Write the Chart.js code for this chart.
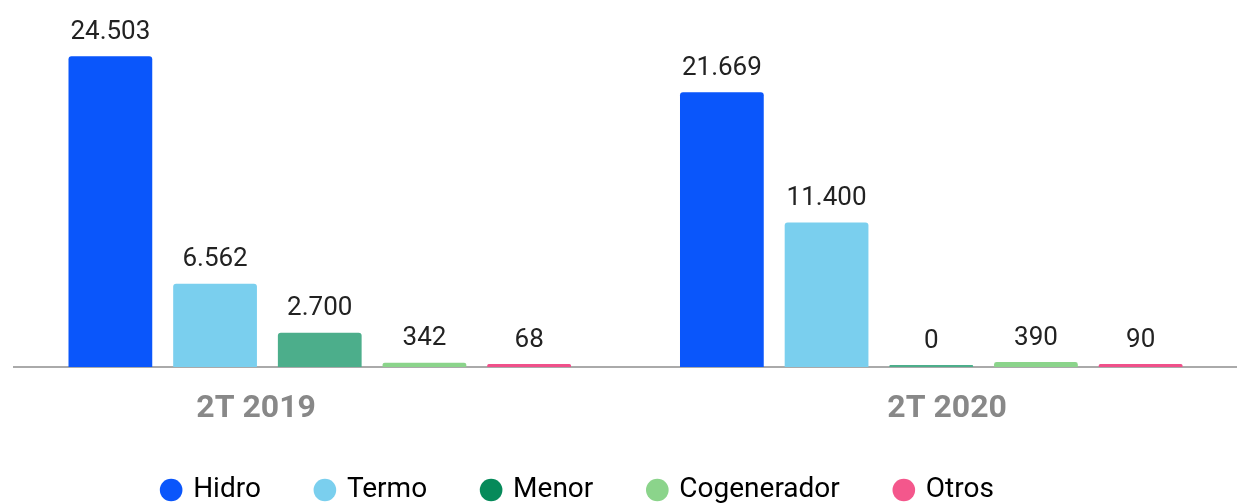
<!DOCTYPE html>
<html>
<head>
<meta charset="utf-8">
<script src="https://cdn.jsdelivr.net/npm/chart.js@4"></script>
<style>
  html, body { margin: 0; padding: 0; background: #fff; }
  #caja { width: 1237px; height: 504px; }
</style>
</head>
<body>
<div id="caja"><canvas id="grafico"></canvas></div>
<script>
const periodos = ['2T 2019', '2T 2020'];
const hidro = [24503, 21669];
const termo = [6562, 11400];
const menor = [2700, 0];
const cogenerador = [342, 390];
const otros = [68, 90];

// relleno de barra y punto de la leyenda
const series = [
  { nombre: 'Hidro', datos: hidro, barra: '#0a56fb', punto: '#0a56fb', minimo: 0 },
  { nombre: 'Termo', datos: termo, barra: '#7acfee', punto: '#7acfee', minimo: 0 },
  { nombre: 'Menor', datos: menor, barra: '#4cae8b', punto: '#068a5a', minimo: 2 },
  { nombre: 'Cogenerador', datos: cogenerador, barra: '#8bd48b', punto: '#8bd48b', minimo: 0 },
  { nombre: 'Otros', datos: otros, barra: '#f0508a', punto: '#f4578c', minimo: 3 }
];

function formatearMiles(n) {
  return String(n).replace(/\B(?=(\d{3})+(?!\d))/g, '.');
}

// etiquetas de valor encima de cada barra
const etiquetasValor = {
  id: 'etiquetasValor',
  afterDatasetsDraw(chart) {
    const ctx = chart.ctx;
    ctx.save();
    ctx.font = '26px Roboto';
    ctx.fillStyle = '#222';
    ctx.textAlign = 'center';
    ctx.textBaseline = 'bottom';
    chart.data.datasets.forEach((ds, i) => {
      chart.getDatasetMeta(i).data.forEach((barra, j) => {
        ctx.fillText(formatearMiles(ds.data[j]), barra.x, barra.y - 11);
      });
    });
    ctx.restore();
  }
};

// la leyenda del original queda algo corrida a la izquierda
const correrLeyenda = {
  id: 'correrLeyenda',
  afterLayout(chart) {
    chart.legend.left -= 47;
    chart.legend.right -= 47;
  }
};

const ctx = document.getElementById('grafico');

new Chart(ctx, {
  type: 'bar',
  data: {
    labels: periodos,
    datasets: series.map(s => ({
      label: s.nombre,
      data: s.datos,
      backgroundColor: s.barra,
      borderRadius: 3,
      borderSkipped: 'bottom',
      minBarLength: s.minimo,
      barPercentage: 0.8,
      categoryPercentage: 0.856
    }))
  },
  options: {
    responsive: true,
    maintainAspectRatio: false,
    animation: false,
    layout: { padding: { top: 50, left: 14, right: 0, bottom: -10 } },
    scales: {
      x: {
        grid: { display: false },
        border: { display: true, color: '#aaa', width: 2 },
        afterFit: (escala) => { escala.height = 53; },
        ticks: {
          color: '#888',
          font: { family: 'Roboto', size: 32, weight: 'bold' },
          padding: 15,
          callback: function (valor, indice) {
            const texto = this.getLabelForValue(valor);
            return indice === 0 ? texto + ' '.repeat(16) : ' '.repeat(4) + texto;
          }
        }
      },
      y: {
        display: false,
        min: 0,
        max: 25000
      }
    },
    plugins: {
      tooltip: { enabled: false },
      legend: {
        position: 'bottom',
        labels: {
          color: '#222',
          font: { family: 'Roboto', size: 28 },
          usePointStyle: true,
          pointStyle: 'circle',
          boxWidth: 16,
          boxHeight: 16,
          padding: 56,
          generateLabels: () => series.map((s, i) => ({
            text: s.nombre,
            fillStyle: s.punto,
            strokeStyle: s.punto,
            lineWidth: 0,
            pointStyle: 'circle',
            datasetIndex: i
          }))
        }
      }
    }
  },
  plugins: [etiquetasValor, correrLeyenda]
});
</script>
</body>
</html>
